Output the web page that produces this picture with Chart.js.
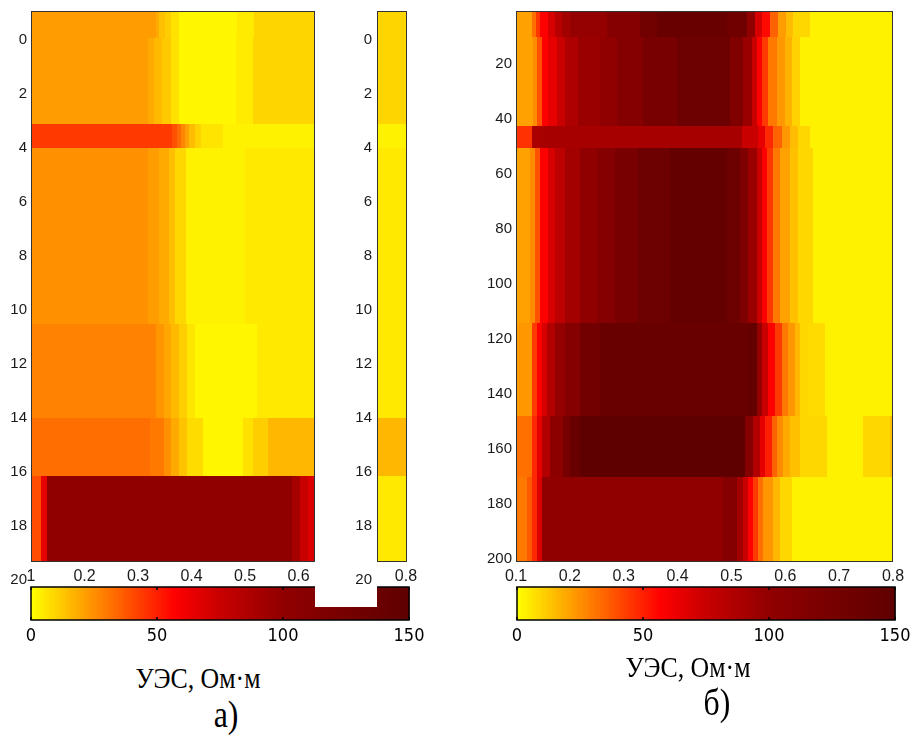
<!DOCTYPE html>
<html><head><meta charset="utf-8">
<script src="https://cdn.jsdelivr.net/npm/chart.js@4/dist/chart.umd.min.js"></script>
<style>
body{margin:0;background:#fff;width:911px;height:735px;position:relative;overflow:hidden}
canvas{position:absolute}
#gap{position:absolute;left:315px;top:0;width:62px;height:607px;background:#fff;z-index:2}
.t{position:absolute;font-family:'Liberation Serif','Times New Roman',serif;color:#000;white-space:nowrap;line-height:1;transform:translate(-50%,-50%) scaleX(0.86);z-index:5}
</style></head><body>
<canvas id="cbA" width="440" height="80" style="left:0;top:575px;z-index:1"></canvas>
<canvas id="cbB" width="451" height="80" style="left:460px;top:575px;z-index:1"></canvas>
<div id="gap"></div>
<canvas id="a1" width="325" height="600" style="left:0;top:0;z-index:3"></canvas>
<canvas id="a2" width="100" height="600" style="left:320px;top:0;z-index:3"></canvas>
<canvas id="b" width="451" height="600" style="left:460px;top:0;z-index:3"></canvas>
<div class="t" style="left:198px;top:678px;font-size:30px">УЭС, Ом·м</div>
<div class="t" style="left:226px;top:714px;font-size:37px">а)</div>
<div class="t" style="left:688px;top:667px;font-size:30px">УЭС, Ом·м</div>
<div class="t" style="left:717px;top:702px;font-size:37px">б)</div>
<script>
// ---------- data (resistivity, Ohm·m) ----------
// panel a: depth band edges and, per band, x-edges and values
const depthEdgesA = [-1.07, -0.07, 3.1, 4.0, 10.5, 14.0, 16.15, 19.33];
const xEdgesA = [
  [0.10,0.333,0.340,0.350,0.362,0.376,0.485,0.517,0.80],
  [0.10,0.318,0.330,0.345,0.362,0.376,0.483,0.515,0.80],
  [0.10,0.364,0.372,0.380,0.388,0.396,0.406,0.418,0.458,0.80],
  [0.10,0.318,0.340,0.357,0.370,0.389,0.500,0.80],
  [0.10,0.333,0.348,0.361,0.376,0.392,0.407,0.523,0.80],
  [0.10,0.322,0.348,0.361,0.376,0.392,0.422,0.497,0.515,0.543,0.80],
  [0.10,0.119,0.129,0.588,0.603,0.618,0.65,0.80]
];
const resA = [
  [22,19,14,11,6.5,2,4.5,9.4],
  [22,19,15.5,12,6.5,2,4.5,9.4],
  [44,39,33,27,21,15,10,6,3],
  [24.5,22,19,14.5,9,3,5],
  [28,23.5,20,15.5,11,5.5,2,5],
  [32.5,30,24.5,19,13.5,7.8,2,6.7,11,16],
  [40,65,100,90,75,68,5]
];
// panel б
const depthEdgesB = [0.6, 10.1, 42.4, 50.4, 114, 148, 170, 201];
const xEdgesB = [
  [0.10,0.130,0.137,0.145,0.159,0.172,0.185,0.200,0.269,0.330,0.362,0.492,0.529,0.544,0.557,0.572,0.586,0.601,0.614,0.646,0.80],
  [0.10,0.132,0.139,0.148,0.159,0.176,0.191,0.215,0.256,0.288,0.336,0.399,0.497,0.521,0.538,0.548,0.557,0.568,0.585,0.599,0.612,0.627,0.80],
  [0.10,0.130,0.148,0.520,0.549,0.562,0.577,0.594,0.609,0.624,0.646,0.80],
  [0.10,0.126,0.135,0.145,0.159,0.172,0.191,0.219,0.250,0.284,0.327,0.386,0.492,0.516,0.531,0.548,0.557,0.566,0.577,0.590,0.609,0.624,0.652,0.80],
  [0.10,0.130,0.139,0.148,0.158,0.172,0.191,0.219,0.256,0.531,0.548,0.557,0.568,0.581,0.594,0.605,0.618,0.627,0.642,0.674,0.80],
  [0.10,0.130,0.139,0.148,0.163,0.187,0.200,0.219,0.525,0.540,0.553,0.562,0.575,0.585,0.596,0.609,0.627,0.677,0.744,0.794,0.80],
  [0.10,0.120,0.130,0.139,0.148,0.484,0.510,0.521,0.531,0.540,0.549,0.559,0.577,0.590,0.612,0.80]
];
const resB = [
  [21,32,45,57,70,82,92,98,111,130,140,132,100,70,55,35,22,15,9,3],
  [21,26,39,57,65,75,87,96,100,111,122,135,116,96,75,57,44,30,23,17,10,3],
  [46,88,90,75,65,48,35,23,15,9,3],
  [21,26,39,57,70,80,92,100,111,122,135,145,135,118,96,75,57,44,30,21,14,9,3],
  [23,44,57,70,85,98,111,128,140,145,98,75,57,44,30,23,16,9,8,3],
  [32,48,65,85,105,125,140,150,111,85,65,50,35,26,19,14,9,3,9,14],
  [30,37,48,68,100,111,92,75,57,44,32,23,16,9,3]
];
// ticks
const xTicksA1 = [0.1,0.2,0.3,0.4,0.5,0.6];
const xLabelsA1 = ['1','0.2','0.3','0.4','0.5','0.6'];
const xTicksA2 = [0.8];
const xLabelsA2 = ['0.8'];
const yTicksA = [0,2,4,6,8,10,12,14,16,18,20];
const yLabelsA = ['0','2','4','6','8','10','12','14','16','18','20'];
const xTicksB = [0.1,0.2,0.3,0.4,0.5,0.6,0.7,0.8];
const xLabelsB = ['0.1','0.2','0.3','0.4','0.5','0.6','0.7','0.8'];
const yTicksB = [20,40,60,80,100,120,140,160,180,200];
const yLabelsB = ['20','40','60','80','100','120','140','160','180','200'];
const cbTicks = [0,50,100,150];
const cbLabels = ['0','50','100','150'];
// colormap stops [value, r, g, b]
const cmapStops = [[0,255,255,0],[57,255,0,0],[75,200,0,0],[100,145,0,0],[125,118,0,0],[150,95,0,0]];

function cmap(v){
  v = Math.max(0, Math.min(150, v));
  for (let i = 1; i < cmapStops.length; i++) {
    const a = cmapStops[i-1], b = cmapStops[i];
    if (v <= b[0]) {
      const t = (v - a[0]) / (b[0] - a[0]);
      const c = k => Math.round(a[k] + (b[k] - a[k]) * t);
      return 'rgb(' + c(1) + ',' + c(2) + ',' + c(3) + ')';
    }
  }
  return 'rgb(95,0,0)';
}

Chart.defaults.font.family = "'Liberation Sans', Arial, sans-serif";
Chart.defaults.color = '#1a1a1a';

function makeHeat(depth, edges, values){
  return {
    id: 'heat',
    beforeDatasetsDraw(chart){
      const {ctx, chartArea: ca, scales} = chart;
      const xs = scales.x, ys = scales.y;
      ctx.save();
      ctx.beginPath(); ctx.rect(ca.left, ca.top, ca.right - ca.left, ca.bottom - ca.top); ctx.clip();
      for (let r = 0; r < depth.length - 1; r++) {
        const y0 = Math.round(ys.getPixelForValue(depth[r]));
        const y1 = Math.round(ys.getPixelForValue(depth[r+1]));
        const e = edges[r], vals = values[r];
        for (let c = 0; c < vals.length; c++) {
          const x0 = Math.round(xs.getPixelForValue(e[c]));
          const x1 = Math.round(xs.getPixelForValue(e[c+1]));
          ctx.fillStyle = cmap(vals[c]);
          ctx.fillRect(x0, Math.min(y0,y1), x1 - x0 + 0.5, Math.abs(y1 - y0) + 0.5);
        }
      }
      ctx.restore();
    },
    afterDraw(chart){
      const {ctx, chartArea: ca} = chart;
      ctx.save();
      ctx.strokeStyle = '#333'; ctx.lineWidth = 1;
      ctx.strokeRect(ca.left + 0.5, ca.top + 0.5, ca.right - ca.left - 1, ca.bottom - ca.top - 1);
      ctx.restore();
    }
  };
}

function fixAxis(size, horizontal){
  return s => {
    if (horizontal) s.height = size; else s.width = size;
    s.paddingTop = 0; s.paddingBottom = 0; s.paddingLeft = 0; s.paddingRight = 0;
  };
}

function heatChart(id, cfg){
  return new Chart(document.getElementById(id), {
    type: 'scatter',
    data: {datasets: []},
    options: {
      responsive: false, animation: false, events: [],
      layout: {padding: cfg.padding},
      plugins: {legend: {display: false}, tooltip: {enabled: false}},
      scales: {
        x: {
          type: 'linear', min: cfg.xMin, max: cfg.xMax,
          grid: {display: false, drawTicks: false}, border: {display: false},
          ticks: {padding: 5, autoSkip: false, maxRotation: 0, font: {size: 16},
                  callback: (v, i) => cfg.xLabels[i]},
          afterBuildTicks: s => { s.ticks = cfg.xTicks.map(v => ({value: v})); },
          afterFit: fixAxis(38, true)
        },
        y: {
          type: 'linear', min: cfg.yMin, max: cfg.yMax, reverse: true,
          grid: {display: false, drawTicks: false}, border: {display: false},
          ticks: {padding: cfg.yPad, autoSkip: false, font: {size: 15},
                  callback: (v, i) => cfg.yLabels[i]},
          afterBuildTicks: s => { s.ticks = cfg.yTicks.map(v => ({value: v})); },
          afterFit: fixAxis(cfg.yWidth, false)
        }
      }
    },
    plugins: [makeHeat(cfg.depth, cfg.edges, cfg.values)]
  });
}

heatChart('a1', {xMin: 0.1, xMax: 0.6307, yMin: -1.07, yMax: 19.33, xTicks: xTicksA1, xLabels: xLabelsA1,
  yTicks: yTicksA, yLabels: yLabelsA, padding: {top: 11, left: 0, right: 10, bottom: 0}, yWidth: 31, yPad: 4,
  depth: depthEdgesA, edges: xEdgesA, values: resA});
heatChart('a2', {xMin: 0.7462, xMax: 0.802, yMin: -1.07, yMax: 19.33, xTicks: xTicksA2, xLabels: xLabelsA2,
  yTicks: yTicksA, yLabels: yLabelsA, padding: {top: 11, left: 0, right: 13, bottom: 0}, yWidth: 57, yPad: 5,
  depth: depthEdgesA, edges: xEdgesA, values: resA});
heatChart('b', {xMin: 0.1, xMax: 0.8, yMin: 0.6, yMax: 201, xTicks: xTicksB, xLabels: xLabelsB,
  yTicks: yTicksB, yLabels: yLabelsB, padding: {top: 11, left: 0, right: 18, bottom: 0}, yWidth: 56, yPad: 4,
  depth: depthEdgesB, edges: xEdgesB, values: resB});

const cbPlugin = {
  id: 'cbar',
  beforeDatasetsDraw(chart){
    const {ctx, chartArea: ca, scales: {x}} = chart;
    ctx.save();
    for (let v = 0; v < 150; v += 1) {
      const x0 = Math.round(x.getPixelForValue(v));
      const x1 = Math.round(x.getPixelForValue(v + 1));
      ctx.fillStyle = cmap(v + 0.5);
      ctx.fillRect(x0, ca.top, x1 - x0 + 0.5, ca.bottom - ca.top);
    }
    ctx.strokeStyle = '#000'; ctx.lineWidth = 1.5;
    ctx.strokeRect(ca.left, ca.top, ca.right - ca.left, ca.bottom - ca.top);
    cbTicks.forEach(v => {
      const px = x.getPixelForValue(v);
      ctx.beginPath();
      ctx.moveTo(px, ca.top); ctx.lineTo(px, ca.top + 3);
      ctx.moveTo(px, ca.bottom); ctx.lineTo(px, ca.bottom - 3);
      ctx.stroke();
    });
    ctx.restore();
  }
};

function cbChart(id, padding){
  return new Chart(document.getElementById(id), {
    type: 'scatter',
    data: {datasets: []},
    options: {
      responsive: false, animation: false, events: [],
      layout: {padding: padding},
      plugins: {legend: {display: false}, tooltip: {enabled: false}},
      scales: {
        x: {
          type: 'linear', min: 0, max: 150,
          grid: {display: false, drawTicks: false}, border: {display: false},
          ticks: {padding: 6, autoSkip: false, maxRotation: 0, color: '#000',
                  font: {size: 18, family: "'Liberation Sans Narrow', 'DejaVu Sans Condensed', 'Liberation Sans', sans-serif"},
                  callback: (v, i) => cbLabels[i]},
          afterBuildTicks: s => { s.ticks = cbTicks.map(v => ({value: v})); },
          afterFit: fixAxis(35, true)
        },
        y: {type: 'linear', min: 0, max: 1, display: false}
      }
    },
    plugins: [cbPlugin]
  });
}
cbChart('cbA', {top: 12, left: 31, right: 31, bottom: 0});
cbChart('cbB', {top: 12, left: 57, right: 16, bottom: 0});
</script>
</body></html>
